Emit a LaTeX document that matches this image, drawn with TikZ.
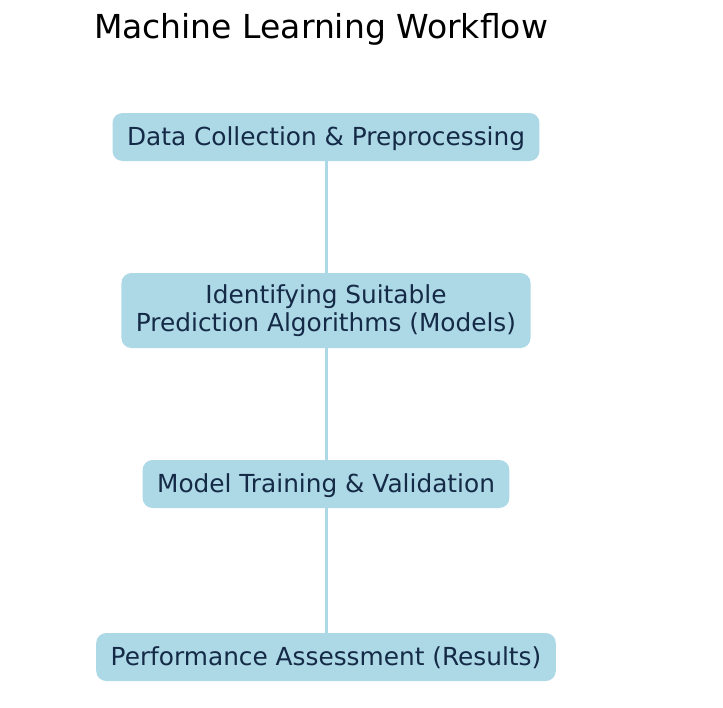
\documentclass[tikz,border=0pt]{standalone}
\usepackage{fontspec}
\setmainfont{DejaVu Sans}
\usepackage{xcolor}
\usepackage{tikz}
\definecolor{lightblue}{RGB}{173,216,230}
\definecolor{stagetext}{RGB}{20,42,70}

\tikzset{
  stagebox/.style={rectangle, rounded corners=10pt, fill=lightblue, text=stagetext,
    font=\fontsize{24.8pt}{28.5pt}\selectfont, align=center,
    minimum height=48pt, inner xsep=14.5pt, inner ysep=0pt},
  oneline/.style={text height=18pt, text depth=1pt},
  stageline/.style={draw=lightblue, line width=3pt}
}

\begin{document}
\begin{tikzpicture}[x=1pt, y=-1pt]
\useasboundingbox (0,0) rectangle (723,707);
% Title
\node[anchor=base, font=\fontsize{33pt}{36pt}\selectfont] (title) at (321,38) {Machine Learning Workflow};

% Workflow stages
\node[stagebox, oneline] (collect) at (326,137) {Data Collection \& Preprocessing};
\node[stagebox, minimum height=75pt] (models) at (326,310.5) {Identifying Suitable\\Prediction Algorithms (Models)};
\node[stagebox, oneline] (train) at (326,484) {Model Training \& Validation};
\node[stagebox, oneline] (assess) at (326,657) {Performance Assessment (Results)};

% Connecting lines
\draw[stageline] (collect) -- (models);
\draw[stageline] (models) -- (train);
\draw[stageline] (train) -- (assess);
\end{tikzpicture}
\end{document}
